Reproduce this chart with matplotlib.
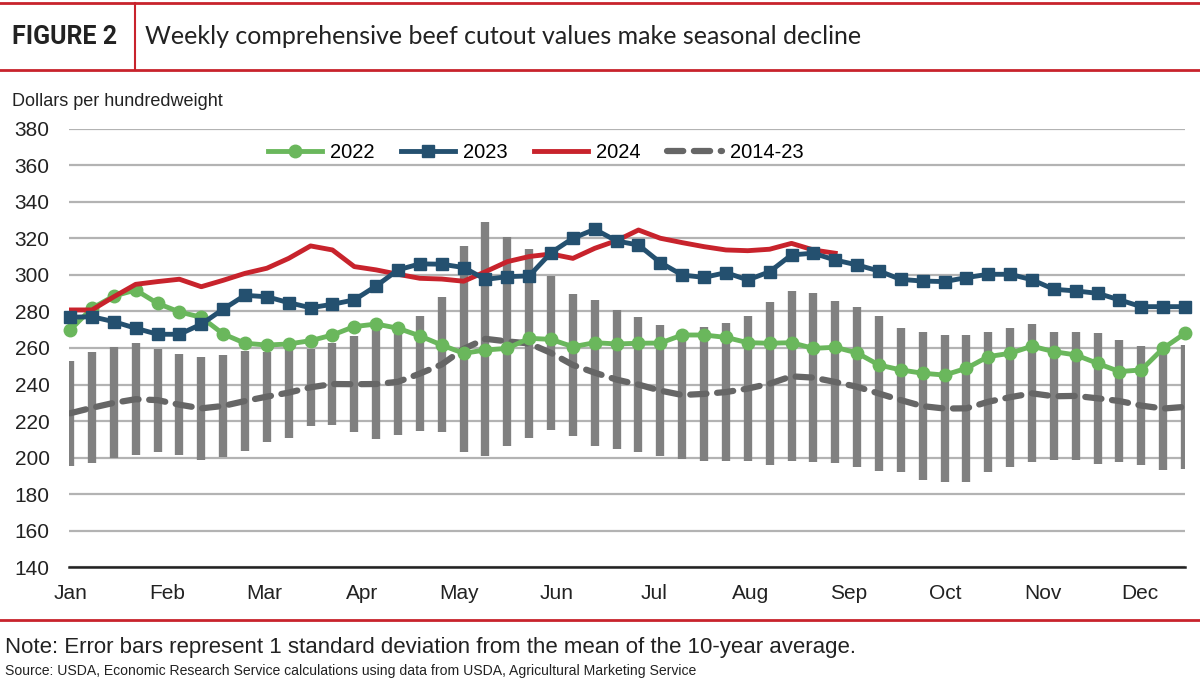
import matplotlib
matplotlib.use("Agg")
import matplotlib.pyplot as plt
import numpy as np

plt.rcParams['font.family'] = ['Liberation Sans', 'DejaVu Sans']

# weekly data (52 weeks)
weeks = np.arange(52)
months = ['Jan', 'Feb', 'Mar', 'Apr', 'May', 'Jun', 'Jul', 'Aug', 'Sep', 'Oct', 'Nov', 'Dec']
month_pos = np.arange(12) * 4.45

y2022 = [269.9, 281.7, 288.4, 291.7, 284.4, 279.7, 276.8, 267.7, 262.6, 261.6,
         262.2, 264.0, 267.1, 271.7, 273.1, 270.8, 266.6, 261.6, 257.1, 258.9,
         259.8, 265.3, 264.7, 260.7, 262.9, 262.2, 262.6, 262.7, 267.1, 267.1,
         265.8, 262.9, 262.6, 262.9, 259.8, 260.4, 257.3, 250.7, 248.0, 246.2,
         245.2, 248.9, 255.3, 257.1, 261.0, 258.0, 256.2, 251.6, 247.1, 248.0,
         259.8, 268.0]
y2023 = [276.8, 277.1, 274.4, 270.8, 267.5, 267.5, 273.0, 281.2, 288.8, 288.0,
         284.8, 282.0, 283.9, 286.3, 293.9, 302.7, 306.0, 305.8, 304.0, 297.5,
         299.0, 299.4, 312.1, 320.0, 324.9, 318.5, 316.3, 306.7, 299.9, 298.6,
         301.2, 297.2, 301.7, 310.9, 311.8, 308.1, 305.4, 302.1, 297.5, 296.6,
         296.3, 298.5, 300.3, 300.3, 297.3, 292.1, 291.2, 289.9, 286.3, 282.6,
         282.6, 282.6]
y2024 = [280.8, 280.8, 288.0, 294.8, 296.3, 297.6, 293.5, 297.0, 300.8, 303.6,
         309.0, 315.8, 313.6, 304.5, 302.7, 300.3, 298.1, 297.7, 296.5, 301.7,
         307.2, 310.0, 311.4, 309.0, 314.5, 318.7, 324.5, 320.0, 317.6, 315.4,
         313.6, 313.2, 314.0, 317.2, 313.6, 311.8]
avg = [224.3, 227.3, 230.0, 232.0, 231.5, 229.0, 227.0, 228.3, 231.0, 233.4,
       235.6, 238.5, 240.3, 240.2, 240.3, 241.5, 246.0, 251.0, 259.5, 265.0,
       263.6, 262.5, 257.3, 250.7, 246.5, 242.7, 240.0, 236.7, 234.3, 234.9,
       235.9, 237.8, 240.5, 244.5, 243.8, 241.4, 238.8, 235.1, 231.5, 228.2,
       226.9, 227.0, 230.6, 233.1, 235.2, 233.6, 233.8, 232.5, 231.0, 228.5,
       226.9, 227.8]
sd = [28.6, 30.4, 30.4, 30.5, 28.2, 27.5, 28.0, 28.0, 27.2, 24.6,
      24.6, 21.2, 22.2, 26.2, 30.0, 29.0, 31.6, 37.1, 56.5, 63.8,
      57.2, 51.6, 41.9, 38.8, 39.9, 37.8, 36.9, 36.0, 35.2, 36.5,
      37.7, 39.5, 44.4, 46.4, 46.4, 44.5, 43.6, 42.2, 39.3, 40.3,
      40.3, 40.3, 38.4, 38.1, 37.7, 35.0, 35.0, 35.9, 33.3, 32.4,
      33.8, 33.8]

red = '#c8232c'
fig = plt.figure(figsize=(12, 6.81), dpi=100)
ax = fig.add_axes([0.0575, 0.1667, 0.93, 0.6446])

# error bars = 1 sd around the 10-year mean
ax.errorbar(weeks, avg, yerr=sd, fmt='none', ecolor='#808080', elinewidth=6,
            capsize=0, zorder=2)
ax.plot(weeks, avg, color='#666666', lw=4.5, dashes=(2.6, 1.7),
        dash_capstyle='round', label='2014-23', zorder=3)
ax.plot(weeks, y2022, color='#6ab75c', lw=3.5, marker='o', ms=9,
        label='2022', zorder=4, clip_on=False)
ax.plot(np.arange(len(y2024)), y2024, color=red, lw=3.5, label='2024', zorder=5)
ax.plot(weeks, y2023, color='#24506f', lw=3.5, marker='s', ms=9,
        label='2023', zorder=6, clip_on=False)

ax.set_xlim(-0.05, 51.0)
ax.set_ylim(140, 380)
ax.set_yticks(np.arange(140, 381, 20))
ax.set_xticks(month_pos)
ax.set_xticklabels(months)
ax.tick_params(length=0, labelsize=15, colors='#222222')
ax.tick_params(axis='x', pad=12)
ax.tick_params(axis='y', pad=14)
ax.grid(axis='y', color='#b3b3b3', lw=1.6)
ax.set_axisbelow(True)
for s in ['top', 'right', 'left']:
    ax.spines[s].set_visible(False)
ax.spines['bottom'].set_color('#222222')
ax.spines['bottom'].set_linewidth(1.8)

h, l = ax.get_legend_handles_labels()
order = [l.index(k) for k in ['2022', '2023', '2024', '2014-23']]
ax.legend([h[i] for i in order], [l[i] for i in order], ncol=4, frameon=False,
          loc='center', bbox_to_anchor=(0.418, 0.946), fontsize=14.5,
          handlelength=2.7, columnspacing=1.3, handletextpad=0.4)

# header and footer
fig.add_artist(plt.Line2D([0, 1], [1 - 3 / 681, 1 - 3 / 681], color=red, lw=2))
fig.add_artist(plt.Line2D([0, 1], [1 - 70 / 681, 1 - 70 / 681], color=red, lw=2))
fig.add_artist(plt.Line2D([135 / 1200, 135 / 1200], [1 - 70 / 681, 1 - 3 / 681],
                          color=red, lw=1.5))
fig.add_artist(plt.Line2D([0, 1], [1 - 620 / 681, 1 - 620 / 681], color=red, lw=2))
fig.text(12 / 1200, 1 - 37 / 681, 'FIGURE 2', fontsize=18, fontweight='bold',
         family=['Roboto', 'DejaVu Sans'], va='center', color='#222222')
fig.text(145 / 1200, 1 - 37 / 681,
         'Weekly comprehensive beef cutout values make seasonal decline',
         fontsize=18, family=['Lato', 'DejaVu Sans'], va='center', color='#222222')
fig.text(12 / 1200, 1 - 101 / 681, 'Dollars per hundredweight', fontsize=13,
         va='center', color='#222222')
fig.text(5 / 1200, 1 - 648 / 681,
         'Note: Error bars represent 1 standard deviation from the mean of the 10-year average.',
         fontsize=16, va='center', color='#222222')
fig.text(5 / 1200, 1 - 671 / 681,
         'Source: USDA, Economic Research Service calculations using data from USDA, '
         'Agricultural Marketing Service',
         fontsize=10.1, va='center', color='#222222')

fig.savefig('out.png', dpi=100)
